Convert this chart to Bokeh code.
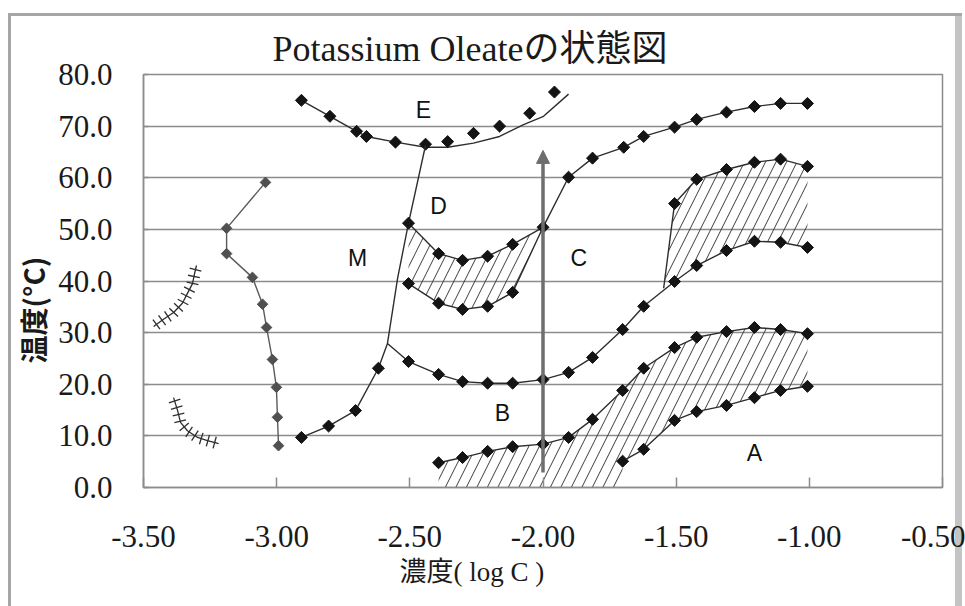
import math
from bokeh.plotting import figure
from bokeh.models import FixedTicker, NumeralTickFormatter, Title, Arrow, NormalHead
from bokeh.core.properties import value
from bokeh.embed import file_html
from bokeh.resources import INLINE

# ---------------- data ----------------
TITLE = "Potassium Oleateの状態図"
X_LABEL = "濃度( log C )"
Y_LABEL = "温度(°C)"
X_TICKS = [-3.5, -3.0, -2.5, -2.0, -1.5, -1.0, -0.5]
Y_TICKS = [0, 10, 20, 30, 40, 50, 60, 70, 80]

# E region measured points and its boundary line
e_pts_x = [-2.907, -2.80, -2.70, -2.663, -2.554, -2.441, -2.358, -2.261, -2.163, -2.05, -1.957]
e_pts_y = [75.0, 71.9, 69.0, 68.0, 66.9, 66.5, 67.0, 68.6, 70.0, 72.5, 76.6]
e_line_x = [-2.907, -2.80, -2.70, -2.663, -2.554, -2.441, -2.358, -2.261, -2.163, -2.073, -1.998, -1.904]
e_line_y = [75.0, 71.9, 69.0, 68.0, 66.9, 65.9, 65.9, 66.7, 68.0, 70.3, 71.9, 76.2]

# M boundary (measured points, then the boundary line up to E)
m_pts_x = [-2.907, -2.805, -2.704, -2.618]
m_pts_y = [9.7, 11.9, 14.9, 23.1]
m_line_x = [-2.907, -2.805, -2.704, -2.618, -2.584, -2.546, -2.505, -2.441]
m_line_y = [9.7, 11.9, 14.9, 23.1, 27.9, 40.5, 51.2, 66.3]

# D upper boundary continuing as the C / E boundary
dc_x = [-2.505, -2.392, -2.302, -2.208, -2.114, -2.0, -1.904, -1.814, -1.697, -1.622,
        -1.506, -1.423, -1.311, -1.206, -1.108, -1.007]
dc_y = [51.2, 45.3, 44.0, 44.8, 47.1, 50.4, 60.1, 63.8, 65.9, 68.0,
        69.8, 71.3, 72.7, 73.8, 74.4, 74.4]

# D lower boundary
dl_x = [-2.505, -2.392, -2.302, -2.208, -2.114]
dl_y = [39.5, 35.7, 34.5, 35.1, 37.8]

# B upper boundary continuing as C lower boundary (starts on the M line)
bu_x = [-2.505, -2.392, -2.302, -2.208, -2.114, -2.0, -1.904, -1.814, -1.701, -1.622,
        -1.506, -1.423, -1.311, -1.206, -1.108, -1.007]
bu_y = [24.4, 21.9, 20.5, 20.2, 20.2, 20.9, 22.3, 25.2, 30.6, 35.1,
        39.9, 43.0, 45.9, 47.7, 47.5, 46.5]

# upper-right boundary (starts from a junction on the curve above)
hu_start_x, hu_start_y = -1.547, 38.6
hu_x = [-1.506, -1.423, -1.311, -1.206, -1.108, -1.007]
hu_y = [55.0, 59.7, 61.6, 63.0, 63.6, 62.2]

# B lower boundary
bl_x = [-2.392, -2.302, -2.208, -2.114, -2.0, -1.904, -1.814, -1.701, -1.622,
        -1.506, -1.423, -1.311, -1.206, -1.108, -1.007]
bl_y = [4.8, 5.8, 7.0, 7.9, 8.4, 9.7, 13.2, 18.8, 23.1,
        27.1, 29.1, 30.2, 31.0, 30.6, 29.8]

# A boundary
a_x = [-1.701, -1.622, -1.506, -1.423, -1.311, -1.206, -1.108, -1.007]
a_y = [5.1, 7.4, 13.0, 14.7, 15.9, 17.4, 18.8, 19.6]

# grey curve on the left
g_x = [-3.042, -3.188, -3.188, -3.091, -3.053, -3.038, -3.016, -3.001, -2.997, -2.993]
g_y = [59.1, 50.2, 45.3, 40.7, 35.5, 31.0, 24.8, 19.4, 13.6, 8.1]

# fence-style curves on the far left
f1_x = [-3.462, -3.425, -3.387, -3.354, -3.335, -3.316, -3.308, -3.301]
f1_y = [31.2, 32.6, 33.9, 35.7, 37.6, 39.5, 41.5, 43.0]
f2_x = [-3.387, -3.372, -3.361, -3.335, -3.297, -3.26, -3.218]
f2_y = [17.4, 14.9, 12.6, 11.0, 9.7, 9.1, 8.5]

# region names
reg_text = ["E", "D", "M", "C", "B", "A"]
reg_x = [-2.449, -2.392, -2.696, -1.866, -2.152, -1.206]
reg_y = [73.1, 54.5, 44.4, 44.4, 14.5, 6.6]

# arrow at log C = -2.0
arrow_x = -2.0
arrow_y0, arrow_y1 = 2.9, 65.3

# ---------------- figure ----------------
W, H = 965, 606
FL, FR, FT, FB = 143, 942, 74, 487
X0, X1, Y0, Y1 = -3.5, -0.5, 0, 80
SERIF = "Liberation Serif"
SERIF_JP = "Liberation Serif, Noto Sans CJK JP"

p = figure(width=W, height=H, x_range=(X0, X1), y_range=(Y0, Y1),
           output_backend="svg", toolbar_location=None,
           min_border_left=FL, min_border_right=W - FR,
           min_border_top=FT, min_border_bottom=H - FB)
p.border_fill_color = None
p.background_fill_color = "white"
p.outline_line_color = "#8c8c8c"
p.outline_line_width = 1.5
p.styles = {"box-shadow": "inset 0 13px 0 0 #ffffff, inset 8px 0 0 0 #ffffff, inset -3px 0 0 0 #ffffff, "
                          "inset 0 16px 0 0 #a6a6a6, inset 11px 0 0 0 #a6a6a6, inset -10px 0 0 0 #c4c4c4",
            "background": "white"}

# title
p.title.text = TITLE
p.title.align = "left"
p.title.offset = 129
p.title.text_font = SERIF_JP
p.title.text_font_size = "36px"
p.title.text_font_style = "normal"
p.title.text_color = "#1a1a1a"
p.title.vertical_align = "bottom"
p.title.standoff = 11

p.xaxis.ticker = FixedTicker(ticks=X_TICKS)
p.yaxis.ticker = FixedTicker(ticks=Y_TICKS)
p.xaxis.formatter = NumeralTickFormatter(format="0.00")
p.yaxis.formatter = NumeralTickFormatter(format="0.0")
for ax in (p.xaxis[0], p.yaxis[0]):
    ax.axis_line_color = "#8c8c8c"
    ax.axis_line_width = 1.5
    ax.major_tick_line_color = "#8c8c8c"
    ax.major_tick_line_width = 1.5
    ax.minor_tick_line_color = None
    ax.major_label_text_font = SERIF
    ax.major_label_text_font_size = "31px"
    ax.major_label_text_color = "#1a1a1a"
p.xaxis.major_tick_in = 10
p.xaxis.major_tick_out = 0
p.xaxis.major_label_standoff = 38
p.yaxis.major_tick_in = 5
p.yaxis.major_tick_out = 0
p.yaxis.major_label_standoff = 31
p.xgrid.grid_line_color = None
p.ygrid.grid_line_color = "#8c8c8c"
p.ygrid.grid_line_width = 1.5

# axis titles placed as side titles
p.add_layout(Title(text=X_LABEL, align="left", offset=256, text_font=SERIF_JP,
                   text_font_size="27px", text_font_style="normal", text_color="#1a1a1a",
                   vertical_align="top", standoff=15), "below")
p.add_layout(Title(text=Y_LABEL, align="left", offset=124, text_font="Noto Sans CJK JP",
                   text_font_size="28px", text_font_style="bold", text_color="#1a1a1a",
                   vertical_align="bottom", standoff=5), "left")

# ---------------- hatched regions (built from the curves) ----------------
HATCH = dict(fill_alpha=0, line_color=None, hatch_pattern="/", hatch_scale=21,
             hatch_weight=1, hatch_color="#3c3c3c")
n_d = dc_x.index(-2.0) + 1
p.patch(dc_x[:n_d] + dl_x[::-1], dc_y[:n_d] + dl_y[::-1], **HATCH)
p.patch(bl_x + a_x[::-1] + [a_x[0], bl_x[0]], bl_y + a_y[::-1] + [0, 0], **HATCH)
tail = [(x, y) for x, y in zip(bu_x, bu_y) if x > hu_start_x]
p.patch([hu_start_x] + hu_x + [t[0] for t in tail[::-1]],
        [hu_start_y] + hu_y + [t[1] for t in tail[::-1]], **HATCH)

# ---------------- curves ----------------
LINE = dict(line_color="#2e2e2e", line_width=1.4)
MK = dict(marker="square", angle=math.pi / 4, size=8.5, color="#141414")

p.line(e_line_x, e_line_y, **LINE)
p.scatter(e_pts_x, e_pts_y, **MK)

p.line(m_line_x, m_line_y, **LINE)
p.scatter(m_pts_x, m_pts_y, **MK)

p.line(dc_x, dc_y, **LINE)
p.scatter(dc_x, dc_y, **MK)

p.line(dl_x + [dc_x[n_d - 1]], dl_y + [dc_y[n_d - 1]], **LINE)
p.scatter(dl_x, dl_y, **MK)

j = m_line_x.index(-2.584)
p.line([m_line_x[j]] + bu_x, [m_line_y[j]] + bu_y, **LINE)
p.scatter(bu_x, bu_y, **MK)

p.line([hu_start_x] + hu_x, [hu_start_y] + hu_y, **LINE)
p.scatter(hu_x, hu_y, **MK)

p.line(bl_x, bl_y, **LINE)
p.scatter(bl_x, bl_y, **MK)

p.line(a_x, a_y, **LINE)
p.scatter(a_x, a_y, **MK)

p.line(g_x, g_y, line_color="#5a5a5a", line_width=1.4)
p.scatter(g_x, g_y, marker="square", angle=math.pi / 4, size=7.5, color="#505050")

# fence curves with perpendicular ticks
sx = (FR - FL) / (X1 - X0)
sy = (FB - FT) / (Y1 - Y0)


def fence(xs, ys, step=7.0, half=6.0):
    px = [(x - X0) * sx for x in xs]
    py = [(y - Y0) * sy for y in ys]
    a0, b0, a1, b1 = [], [], [], []
    carry = step / 2
    for i in range(len(px) - 1):
        dx, dy = px[i + 1] - px[i], py[i + 1] - py[i]
        L = math.hypot(dx, dy)
        ux, uy = dx / L, dy / L
        nx, ny = -uy, ux
        t = carry
        while t <= L:
            cx, cy = px[i] + ux * t, py[i] + uy * t
            a0.append((cx - nx * half) / sx + X0)
            b0.append((cy - ny * half) / sy + Y0)
            a1.append((cx + nx * half) / sx + X0)
            b1.append((cy + ny * half) / sy + Y0)
            t += step
        carry = t - L
    return a0, b0, a1, b1


for fx, fy in ((f1_x, f1_y), (f2_x, f2_y)):
    p.line(fx, fy, line_color="#2e2e2e", line_width=1.3)
    a0, b0, a1, b1 = fence(fx, fy)
    p.segment(a0, b0, a1, b1, line_color="#2e2e2e", line_width=1.3)

# arrow
p.add_layout(Arrow(end=NormalHead(size=13, fill_color="#6e6e6e", line_color="#6e6e6e"),
                   x_start=arrow_x, y_start=arrow_y0, x_end=arrow_x, y_end=arrow_y1,
                   line_color="#6e6e6e", line_width=3.5))

# region names
p.text(reg_x, reg_y, text=reg_text, text_font=value("Liberation Sans"), text_font_size="23px",
       text_align="center", text_baseline="middle", text_color="#111111")

open("out.html", "w").write(file_html(p, INLINE))
